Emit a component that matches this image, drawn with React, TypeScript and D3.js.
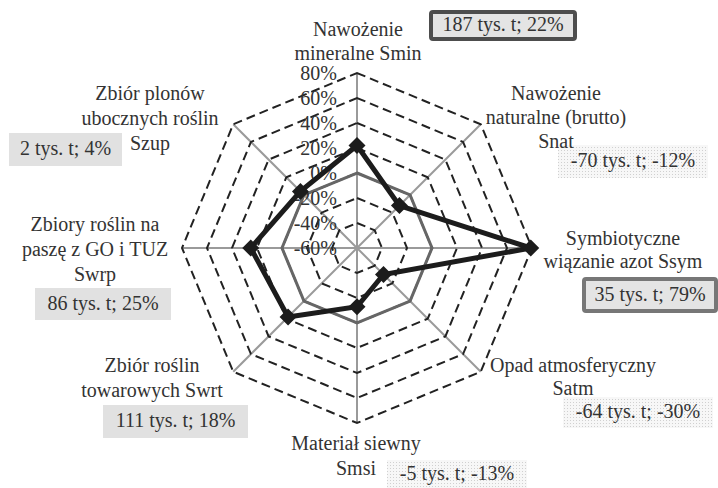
import React from "react";
import * as d3 from "d3";

const categories = ["Smin", "Snat", "Ssym", "Satm", "Smsi", "Swrt", "Swrp", "Szup"];
const values = [22, -12, 79, -30, -13, 18, 25, 4];
const zeroLine = [0, 0, 0, 0, 0, 0, 0, 0];
const labelLines = [
  ["Nawożenie", "mineralne Smin"],
  ["Nawożenie", "naturalne (brutto)", "Snat"],
  ["Symbiotyczne", "wiązanie azot Ssym"],
  ["Opad atmosferyczny", "Satm"],
  ["Materiał siewny", "Smsi"],
  ["Zbiór roślin", "towarowych Swrt"],
  ["Zbiory roślin na", "paszę z GO i TUZ", "Swrp"],
  ["Zbiór plonów", "ubocznych roślin", "Szup"],
];
const amounts = [
  "187 tys. t; 22%",
  "-70 tys. t; -12%",
  "35 tys. t; 79%",
  "-64 tys. t; -30%",
  "-5 tys. t; -13%",
  "111 tys. t; 18%",
  "86 tys. t; 25%",
  "2 tys. t; 4%",
];
const tickValues = [-60, -40, -20, 0, 20, 40, 60, 80];

// layout (positions / styles only)
const labelPos = [
  { x: 358, y: 31, dy: 24 },
  { x: 556, y: 95, dy: 24 },
  { x: 623, y: 240, dy: 23 },
  { x: 573, y: 367, dy: 23 },
  { x: 356, y: 445, dy: 25 },
  { x: 152, y: 367, dy: 25 },
  { x: 95, y: 226, dy: 25 },
  { x: 150, y: 95, dy: 25 },
];
const boxPos = [
  { x: 431, y: 12, w: 144, h: 27, style: "dark" },
  { x: 558, y: 145, w: 150, h: 33, style: "dots" },
  { x: 584, y: 279, w: 132, h: 32, style: "mid" },
  { x: 563, y: 397, w: 150, h: 31, style: "dots" },
  { x: 387, y: 460, w: 140, h: 28, style: "dots" },
  { x: 103, y: 405, w: 145, h: 33, style: "plain" },
  { x: 35, y: 288, w: 136, h: 32, style: "plain" },
  { x: 9, y: 133, w: 113, h: 33, style: "plain" },
];

const W = 718;
const H = 488;
const cx = 357;
const cy = 248;
const R = 175;
const FONT = "'Liberation Serif', 'Times New Roman', serif";

export default function App() {
  const r = d3.scaleLinear().domain([-60, 80]).range([0, R]);
  const n = categories.length;
  const angle = (i: number) => (i * 2 * Math.PI) / n;
  const pt = (i: number, v: number): [number, number] => {
    const a = angle(i);
    const rr = r(v);
    return [cx + rr * Math.sin(a), cy - rr * Math.cos(a)];
  };
  const closed = d3.line().curve(d3.curveLinearClosed);
  const rings = tickValues.filter((t) => t > -60);

  const boxFill = (s: string) =>
    s === "dots" ? "url(#dots)" : s === "plain" ? "#e1e1e1" : "#e4e4e4";
  const boxStroke = (s: string) => (s === "dark" ? "#4d4d4d" : s === "mid" ? "#777" : "none");

  return (
    <svg width={W} height={H} style={{ position: "absolute", left: 0, top: 0, background: "#fff" }}>
      <defs>
        <pattern id="dots" width="3" height="3" patternUnits="userSpaceOnUse">
          <rect width="3" height="3" fill="#f7f7f7" />
          <rect width="1" height="1" fill="#d0d0d0" />
        </pattern>
      </defs>
      <rect width={W} height={H} fill="#fff" />
      {/* spokes */}
      {categories.map((c, i) => {
        const [x, y] = pt(i, 80);
        return <line key={"s" + c} x1={cx} y1={cy} x2={x} y2={y} stroke="#9a9a9a" strokeWidth={2} />;
      })}
      {/* dashed rings */}
      {rings.map((t) => (
        <path
          key={"r" + t}
          d={closed(categories.map((_, i) => pt(i, t))) || ""}
          fill="none"
          stroke="#222"
          strokeWidth={2}
          strokeDasharray="9,5"
        />
      ))}
      {/* zero reference series */}
      <path
        d={closed(zeroLine.map((v, i) => pt(i, v))) || ""}
        fill="none"
        stroke="#666"
        strokeWidth={3}
      />
      {/* tick labels */}
      {tickValues.map((t) => (
        <text
          key={"t" + t}
          x={cx - 20}
          y={cy - r(t) + 2}
          textAnchor="end"
          dominantBaseline="middle"
          fontFamily={FONT}
          fontSize={20}
          fill="#333"
        >
          {t + "%"}
        </text>
      ))}
      {/* data series */}
      <path
        d={closed(values.map((v, i) => pt(i, v))) || ""}
        fill="none"
        stroke="#1c1c1c"
        strokeWidth={5}
        strokeLinejoin="miter"
      />
      {values.map((v, i) => {
        const [x, y] = pt(i, v);
        const s = 8.5;
        return (
          <path
            key={"m" + i}
            d={`M${x},${y - s}L${x + s},${y}L${x},${y + s}L${x - s},${y}Z`}
            fill="#1c1c1c"
          />
        );
      })}
      {/* amount boxes */}
      {amounts.map((a, i) => {
        const b = boxPos[i];
        const sw = b.style === "dark" || b.style === "mid" ? 4 : 0;
        return (
          <g key={"b" + i}>
            <rect
              x={b.x}
              y={b.y}
              width={b.w}
              height={b.h}
              rx={sw ? 2 : 0}
              fill={boxFill(b.style)}
              stroke={boxStroke(b.style)}
              strokeWidth={sw}
            />
            <text
              x={b.x + b.w / 2}
              y={b.y + b.h / 2 + 1}
              textAnchor="middle"
              dominantBaseline="middle"
              fontFamily={FONT}
              fontSize={20}
              fill="#333"
            >
              {a}
            </text>
          </g>
        );
      })}
      {/* category labels */}
      {labelLines.map((lines, i) => (
        <text key={"l" + i} fontFamily={FONT} fontSize={20} fill="#333" textAnchor="middle">
          {lines.map((ln, j) => (
            <tspan key={j} x={labelPos[i].x} y={labelPos[i].y + j * labelPos[i].dy} dominantBaseline="middle">
              {ln}
            </tspan>
          ))}
        </text>
      ))}
    </svg>
  );
}
